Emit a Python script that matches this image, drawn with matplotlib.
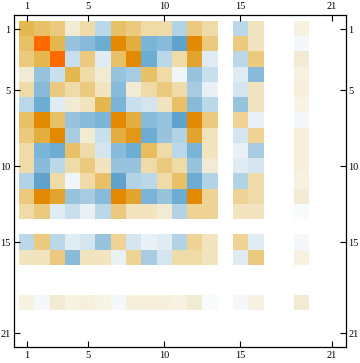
import numpy as np
import matplotlib.pyplot as plt
from matplotlib.colors import LinearSegmentedColormap

# filas/columnas con datos (las demas quedan en cero)
indices = [1, 2, 3, 4, 5, 6, 7, 8, 9, 10, 11, 12, 13, 15, 16, 19]

# triangulo superior, en niveles de -7 a 7
triangulo = [
    [4, 3.5, 3, 1, 2, -3, 3.5, 3, 2, 2, -3.5, 3, 2, -3, 1.5, 0.7],
    [7, 4, -4.5, -5, -6, 6, 4.5, -5.5, -5, -6.5, 6, 3, 3, 1.5, -0.5],
    [7, -2.5, 3, -1.5, 3.5, 6, -6, -3, 2, 5, -1.5, -3, 3, 1],
    [4, 2, 1, -4.5, -4, 3.5, 2, -0.7, -4.5, -2.5, -1.5, -5, 0.7],
    [3, 1.5, -5, 1, 2, 3, 2, -4, -1, -2, 1.5, 0.8],
    [4, -5.5, -2.5, -2, 1.5, 3.5, -5, -3, -4.5, 1.5, 0.6],
    [6, 4.5, -5, -4.5, -6.5, 6, 3, 2.5, -1, -0.5],
    [5.5, -6, -4.5, -3.5, 5, 1.5, -2, 2.5, 0.8],
    [3.7, 2, -3, -5.5, 1.5, -1, -4, 0.8],
    [3, 2, -4.5, 1, -1.5, -2, 0.8],
    [3.5, -6, -3.5, -3.5, 2, 0.7],
    [6, 2.5, 2.5, 2, 1],
    [2.5, 1.5, 1.5, -0.3],
    [2.5, -1.5, -0.5],
    [3, 0.7],
    [1],
]

n = 21
matriz = np.zeros((n, n))
for i, fila in enumerate(triangulo):
    for k, v in enumerate(fila):
        j = i + k
        a, b = indices[i] - 1, indices[j] - 1
        matriz[a, b] = v / 7
        matriz[b, a] = v / 7
matriz = np.ma.masked_equal(matriz, 0)

niveles = [-7, -6, -5, -4, -3, -2, -1, 0, 1, 2, 3, 4, 5, 6, 7]
colores = ['#5598c8', '#6eaed4', '#88bcda', '#a8cce2', '#bcd9ea', '#d5e6f1', '#eaf2f8', '#ffffff',
           '#f3ecd4', '#f0dca8', '#ecca80', '#e6b850', '#e2a530', '#e28a00', '#ff6a00']
cmap = LinearSegmentedColormap.from_list('mma', [((l + 7) / 14, c) for l, c in zip(niveles, colores)], N=1024)
cmap.set_bad('white')

fig = plt.figure(figsize=(3.6, 3.63), dpi=100)
ax = fig.add_axes([0.0375, 0.045, 0.9225, 0.9145])
ax.imshow(matriz, cmap=cmap, vmin=-1, vmax=1, interpolation='nearest', aspect='auto',
          extent=(0.5, 21.5, 21.5, 0.5))
ax.set_xlim(0.11, 21.9)
ax.set_ylim(21.88, 0.04)

marcas = [1, 5, 10, 15, 21]
ax.set_xticks(marcas)
ax.set_yticks(marcas)
ax.tick_params(direction='in', length=4, width=0.8, top=True, right=True,
               labeltop=True, labelright=True, labelsize=7.5, pad=2)
ax.tick_params(axis='x', pad=3)
for lab in ax.get_xticklabels() + ax.get_yticklabels():
    lab.set_family('Liberation Serif')
for s in ax.spines.values():
    s.set_linewidth(0.9)

fig.savefig('out.png', dpi=100)
